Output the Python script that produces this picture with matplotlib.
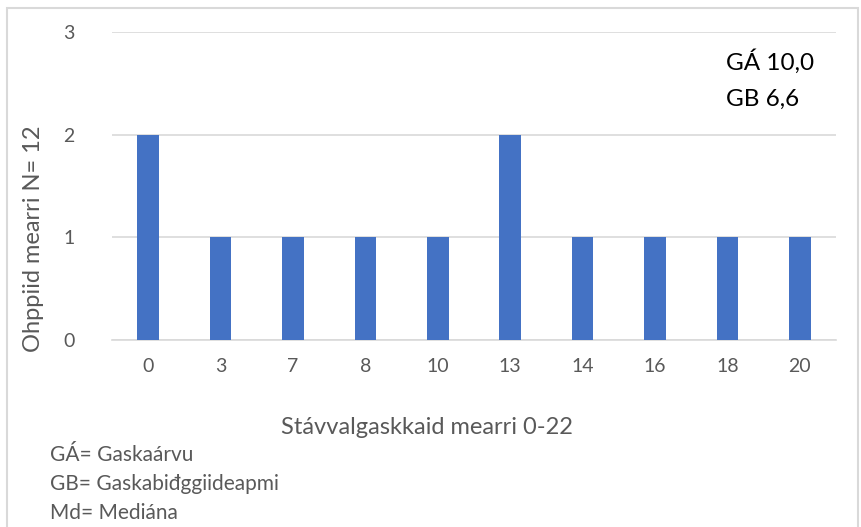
import matplotlib
matplotlib.use('Agg')
import matplotlib.pyplot as plt
from matplotlib.patches import Rectangle

categories = ['0', '3', '7', '8', '10', '13', '14', '16', '18', '20']
counts = [2, 1, 1, 1, 1, 2, 1, 1, 1, 1]
y_ticks = [0, 1, 2, 3]
stats_text = ['GÁ 10,0', 'GB 6,6']
notes = ['GÁ= Gaskaárvu', 'GB= Gaskabiđggiideapmi', 'Md= Mediána']

plt.rcParams['font.family'] = ['Lato', 'DejaVu Sans']

W, H = 862, 527
fig = plt.figure(figsize=(W / 100, H / 100), dpi=100)
ax = fig.add_axes([112 / W, 1 - 340 / H, (836 - 112) / W, (340 - 32) / H])

x = range(len(categories))
ax.bar(x, counts, width=0.3, color='#4472C4', zorder=3)
ax.set_xlim(-0.5, len(categories) - 0.5)
ax.set_ylim(0, 3)
ax.set_yticks(y_ticks)
ax.set_xticks(list(x))
ax.set_xticklabels(categories)
ax.grid(axis='y', color='#d9d9d9', linewidth=1.2, zorder=0)
for s in ['top', 'right', 'left']:
    ax.spines[s].set_visible(False)
ax.spines['bottom'].set_color('#d9d9d9')
ax.spines['bottom'].set_linewidth(1.2)
ax.tick_params(axis='both', length=0, labelsize=14, labelcolor='#595959')
ax.tick_params(axis='x', pad=13)
ax.tick_params(axis='y', pad=27)

fig.text(34 / W, 1 - 239 / H, 'Ohppiid mearri N= 12', rotation=90, ha='center', va='center',
         fontsize=17, color='#595959')
fig.text(427 / W, 1 - 427 / H, 'Stávvalgaskkaid mearri 0-22', ha='center', va='center',
         fontsize=17, color='#595959')

for i, t in enumerate(stats_text):
    fig.text(726 / W, 1 - (62 + 37 * i) / H, t, ha='left', va='center', fontsize=17.5, color='black')

for i, t in enumerate(notes):
    fig.text(50 / W, 1 - (455 + 29 * i) / H, t, ha='left', va='center', fontsize=15, color='#595959')

fig.patches.append(Rectangle((7 / W, -0.01), (851 / W), 1 - 8 / H + 0.01, transform=fig.transFigure,
                             fill=False, edgecolor='#d9d9d9', linewidth=1.5))

fig.savefig('out.png', dpi=100)
